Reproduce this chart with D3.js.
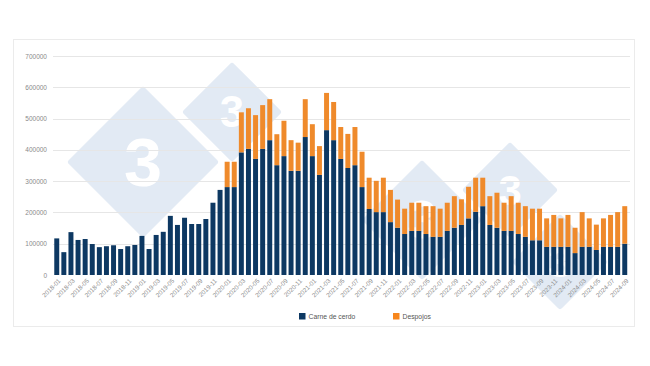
<!DOCTYPE html>
<html><head><meta charset="utf-8">
<script src="https://cdn.jsdelivr.net/npm/d3@7"></script>
<style>body{margin:0;background:#fff}svg{display:block}</style>
</head><body>
<svg id="c" width="650" height="366"></svg>
<script>
const months = [
"2018-01","2018-02","2018-03","2018-04","2018-05","2018-06","2018-07","2018-08","2018-09","2018-10","2018-11","2018-12",
"2019-01","2019-02","2019-03","2019-04","2019-05","2019-06","2019-07","2019-08","2019-09","2019-10","2019-11","2019-12",
"2020-01","2020-02","2020-03","2020-04","2020-05","2020-06","2020-07","2020-08","2020-09","2020-10","2020-11","2020-12",
"2021-01","2021-02","2021-03","2021-04","2021-05","2021-06","2021-07","2021-08","2021-09","2021-10","2021-11","2021-12",
"2022-01","2022-02","2022-03","2022-04","2022-05","2022-06","2022-07","2022-08","2022-09","2022-10","2022-11","2022-12",
"2023-01","2023-02","2023-03","2023-04","2023-05","2023-06","2023-07","2023-08","2023-09","2023-10","2023-11","2023-12",
"2024-01","2024-02","2024-03","2024-04","2024-05","2024-06","2024-07","2024-08","2024-09"];
const carneDeCerdo = [
117000,73000,137000,112000,115000,99000,89000,92000,95000,83000,92000,96000,
125000,83000,128000,138000,189000,160000,183000,163000,163000,179000,231000,272000,
281000,281000,392000,403000,371000,403000,431000,351000,380000,333000,333000,441000,
380000,320000,463000,431000,371000,342000,351000,281000,211000,201000,201000,169000,
151000,131000,141000,141000,131000,122000,122000,141000,151000,160000,181000,202000,
220000,160000,151000,141000,141000,131000,122000,111000,111000,90000,90000,90000,
90000,70000,90000,90000,80000,90000,90000,90000,100000];
const despojos = [
0,0,0,0,0,0,0,0,0,0,0,0,
0,0,0,0,0,0,0,0,0,0,0,0,
81000,81000,128000,130000,140000,140000,131000,99000,113000,98000,90000,121000,
102000,92000,119000,122000,102000,109000,122000,113000,100000,100000,110000,103000,
90000,81000,90000,90000,89000,98000,90000,90000,101000,82000,101000,109000,
91000,92000,112000,90000,111000,100000,98000,101000,101000,91000,102000,91000,
102000,81000,111000,91000,81000,91000,102000,111000,120000];
const yTicks = [0,100000,200000,300000,400000,500000,600000,700000];
const seriesNames = ["Carne de cerdo","Despojos"];
const colors = ["#0d3862","#ef8a2b"];

const svg = d3.select("#c");
const font = "'Liberation Sans', Arial, sans-serif";

// frame
svg.append("rect").attr("x",13.5).attr("y",39.5).attr("width",621).attr("height",287)
  .attr("fill","#fff").attr("stroke","#ebebeb");

// watermark diamonds
const marks = [{x:143,y:162,r:72},{x:232,y:112,r:46},{x:422,y:220,r:56},{x:510,y:190,r:44},{x:560,y:262,r:44}];
const wm = svg.append("g");
marks.forEach(m=>{
  wm.append("path").attr("d",`M${m.x},${m.y-m.r}L${m.x+m.r},${m.y}L${m.x},${m.y+m.r}L${m.x-m.r},${m.y}Z`)
    .attr("fill","#e2eaf4").attr("stroke","#e2eaf4").attr("stroke-width",6).attr("stroke-linejoin","round");
  wm.append("text").attr("x",m.x).attr("y",m.y+m.r*0.33).attr("text-anchor","middle")
    .attr("font-family",font).attr("font-weight","bold").attr("font-size",m.r*0.95)
    .attr("fill","#fff").text("3");
});

const x = d3.scaleBand().domain(months).range([53.2,628.3]).paddingInner(0.3).paddingOuter(0.15);
const y = d3.scaleLinear().domain([0,700000]).range([275,56]);

// grid
svg.append("g").selectAll("line").data(yTicks.slice(1)).join("line")
  .attr("x1",53).attr("x2",630).attr("y1",d=>Math.round(y(d))+0.5).attr("y2",d=>Math.round(y(d))+0.5)
  .attr("stroke","#e6e6e6").attr("stroke-width",1);

// y labels
const ya = svg.append("g").attr("transform","translate(47,0)")
  .call(d3.axisLeft(y).tickValues(yTicks).tickSize(0).tickPadding(0).tickFormat(d=>String(d)));
ya.select(".domain").remove();
ya.selectAll("text").attr("font-family",font).attr("font-size",6.5).attr("fill","#8a8a8a");

// stacked bars
const rows = months.map((m,i)=>({month:m,"Carne de cerdo":carneDeCerdo[i],"Despojos":despojos[i]}));
const stack = d3.stack().keys(seriesNames)(rows);
svg.append("g").selectAll("g").data(stack).join("g").attr("fill",(d,i)=>colors[i])
  .selectAll("rect").data(d=>d).join("rect")
  .attr("x",d=>x(d.data.month)).attr("width",x.bandwidth())
  .attr("y",d=>y(d[1])).attr("height",d=>Math.max(0,y(d[0])-y(d[1])));

// x labels
const xa = svg.append("g").attr("transform","translate(0,278)")
  .call(d3.axisBottom(x).tickValues(months.filter((m,i)=>i%2===0)).tickSize(0).tickPadding(0));
xa.select(".domain").remove();
xa.selectAll("text").attr("font-family",font).attr("font-size",6.3).attr("fill","#8a8a8a")
  .attr("text-anchor","end").attr("dy","0.3em").attr("transform","translate(3,2) rotate(-45)");

// legend
const lg = svg.append("g");
const lpos = [299,393];
seriesNames.forEach((n,i)=>{
  lg.append("rect").attr("x",lpos[i]).attr("y",313).attr("width",6.5).attr("height",6.5).attr("fill",i? "#f7861c":colors[i]);
  lg.append("text").attr("x",lpos[i]+9.5).attr("y",319).attr("font-family",font).attr("font-size",6.8)
    .attr("fill","#555").text(n);
});
</script>
</body></html>
